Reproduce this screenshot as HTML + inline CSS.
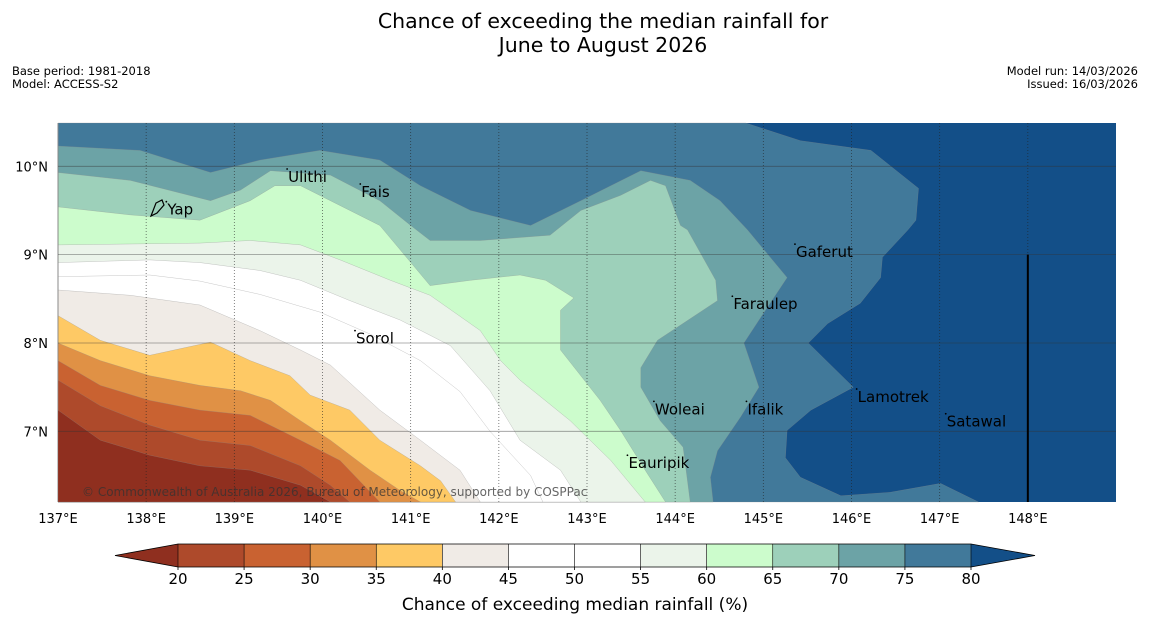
<!DOCTYPE html>
<html><head><meta charset="utf-8">
<style>
body{margin:0;background:#fff;font-family:"Liberation Sans","DejaVu Sans",sans-serif;}
svg{display:block}
</style></head>
<body>
<svg id="c" width="1150" height="644" viewBox="0 0 1150 644" xmlns="http://www.w3.org/2000/svg" font-family="DejaVu Sans, Liberation Sans, sans-serif">
<text x="603" y="28" text-anchor="middle" font-size="20.5">Chance of exceeding the median rainfall for</text>
<text x="603" y="52" text-anchor="middle" font-size="20.5">June to August 2026</text>
<text x="12" y="75" font-size="11.5">Base period: 1981-2018</text>
<text x="12" y="88" font-size="11.5">Model: ACCESS-S2</text>
<text x="1138" y="75" font-size="11.5" text-anchor="end">Model run: 14/03/2026</text>
<text x="1138" y="88" font-size="11.5" text-anchor="end">Issued: 16/03/2026</text>
<g id="map"></g>
<g id="cbar"></g>
<text x="575" y="610" text-anchor="middle" font-size="17">Chance of exceeding median rainfall (%)</text>
</svg>
<script>
const NS="http://www.w3.org/2000/svg";
const levels=[20,25,30,35,40,45,50,55,60,65,70,75,80];
const bandColors=["#ae4a2b","#c96231","#e09145","#fec965","#f0ebe6","#ffffff","#ffffff","#ebf4ea","#ccfccc","#9dd0ba","#6ca3a6","#41799a"];
const underColor="#8f2f1f";
const overColor="#134f88";
const lonTicks=[137,138,139,140,141,142,143,144,145,146,147,148];
const latTicks=[10,9,8,7];
const b80=[[144.80,10.49],[145.42,10.29],[146.22,10.18],[146.76,9.75],[146.73,9.39],[146.64,9.28],[146.35,8.97],[146.33,8.74],[146.10,8.45],[145.73,8.22],[145.51,8.00],[146.02,7.50],[145.54,7.24],[145.27,7.01],[145.25,6.70],[145.42,6.48],[145.88,6.27],[146.44,6.31],[147.01,6.41],[147.44,6.20]];
const b75=[[137,10.23],[137.93,10.18],[138.73,9.93],[139.29,10.07],[139.97,10.18],[140.65,10.07],[141.11,9.78],[141.68,9.50],[142.36,9.33],[142.93,9.61],[143.61,9.95],[144.17,9.84],[144.51,9.61],[144.82,9.28],[145.27,8.74],[144.97,8.29],[144.78,8.00],[144.95,7.50],[144.74,7.16],[144.48,6.78],[144.40,6.48],[144.43,6.20]];
const b70=[[137,9.93],[137.82,9.84],[138.73,9.61],[139.07,9.73],[139.41,9.95],[140.09,9.90],[140.65,9.61],[141.00,9.33],[141.22,9.16],[141.79,9.16],[142.58,9.22],[142.93,9.50],[143.38,9.67],[143.72,9.84],[143.89,9.78],[144.06,9.33],[144.14,9.28],[144.46,8.71],[144.48,8.48],[143.80,8.03],[143.61,7.72],[143.61,7.50],[143.83,7.12],[144.09,6.82],[144.17,6.20]];
const b65=[[137,9.54],[137.82,9.45],[138.61,9.39],[139.18,9.61],[139.46,9.78],[139.75,9.78],[140.09,9.61],[140.65,9.33],[141.22,8.65],[141.68,8.71],[142.24,8.77],[142.53,8.71],[142.85,8.51],[142.70,8.37],[142.70,7.92],[143.15,7.35],[143.38,7.01],[143.66,6.56],[143.89,6.20]];
const b60=[[137,9.11],[138.61,9.13],[139.18,9.16],[139.75,9.11],[140.20,8.94],[140.77,8.71],[141.22,8.54],[141.79,8.14],[142.02,7.80],[142.24,7.58],[142.81,7.12],[143.27,6.67],[143.66,6.20]];
const b55=[[137,8.91],[138.04,8.94],[138.61,8.91],[139.29,8.82],[139.75,8.71],[140.31,8.48],[140.88,8.26],[141.45,7.97],[141.90,7.46],[142.24,6.90],[142.70,6.56],[142.93,6.20]];
const b50=[[137,8.75],[138.04,8.77],[138.61,8.70],[139.29,8.55],[139.97,8.35],[140.54,8.10],[141.11,7.80],[141.56,7.45],[141.90,7.00],[142.36,6.50],[142.50,6.20]];
const b45=[[137,8.60],[137.82,8.54],[138.61,8.43],[139.29,8.14],[139.75,7.92],[140.09,7.75],[140.65,7.24],[141.11,6.90],[141.56,6.56],[141.79,6.20]];
const b40=[[137,8.31],[137.48,8.03],[138.04,7.86],[138.73,8.01],[139.18,7.80],[139.63,7.63],[139.86,7.41],[140.31,7.24],[140.65,6.90],[141.11,6.61],[141.34,6.44],[141.51,6.20]];
const b35=[[137,8.00],[137.48,7.80],[138.04,7.63],[138.61,7.52],[139.07,7.46],[139.41,7.35],[139.75,7.12],[140.09,6.90],[140.54,6.56],[140.88,6.33],[141.11,6.20]];
const b30=[[137,7.80],[137.48,7.52],[138.04,7.35],[138.61,7.24],[139.18,7.18],[139.75,6.90],[140.20,6.67],[140.65,6.20]];
const b25=[[137,7.58],[137.48,7.29],[138.04,7.07],[138.61,6.90],[139.18,6.84],[139.75,6.61],[140.09,6.39],[140.31,6.20]];
const b20=[[137,7.24],[137.48,6.90],[138.04,6.73],[138.61,6.61],[139.18,6.56],[139.75,6.39],[140.09,6.20]];
const boundaries=[b80,b75,b70,b65,b60,b55,b50,b45,b40,b35,b30,b25,b20];
const islandNames=["Ulithi","Fais","Yap","Gaferut","Faraulep","Sorol","Woleai","Ifalik","Lamotrek","Satawal","Eauripik"];
const islandLon=[139.61,140.44,138.24,145.37,144.66,140.38,143.77,144.82,146.07,147.08,143.47];
const islandLat=[9.89,9.72,9.52,9.04,8.45,8.06,7.26,7.26,7.40,7.12,6.65];

const LON0=137,LON1=149.0,LAT0=6.2,LAT1=10.49;
const X0=58,X1=1116,Y0=123,Y1=502;
const xs=lon=>X0+(lon-LON0)/(LON1-LON0)*(X1-X0);
const ys=lat=>Y1-(lat-LAT0)/(LAT1-LAT0)*(Y1-Y0);
const mapG=document.getElementById('map');
function mk(tag,attrs,parent){const e=document.createElementNS(NS,tag);for(const k in attrs)e.setAttribute(k,attrs[k]);(parent||mapG).appendChild(e);return e;}

const bgRect=mk('rect',{x:X0,y:Y0,width:X1-X0,height:Y1-Y0,fill:overColor});


const topStrip=mk('polygon',{points:[[138.67,10.49],[138.72,10.43],[139.5,10.42],[139.7,10.49]].map(p=>xs(p[0])+','+ys(p[1])).join(' '),fill:overColor});


boundaries.forEach((b,i)=>{
  const lvl=levels[levels.length-1-i];
  const col=i<bandColors.length?bandColors[bandColors.length-1-i]:underColor;
  const pts=b.concat([[LON0,LAT0],[LON0,LAT1]]);
  const p=mk('polygon',{points:pts.map(q=>xs(q[0]).toFixed(1)+','+ys(q[1]).toFixed(1)).join(' '),fill:col,stroke:'#8a8a8a','stroke-width':0.4,'stroke-opacity':0.6});
  
  
});
latTicks.forEach(l=>{
  const ln=mk('line',{x1:X0,x2:X1,y1:ys(l),y2:ys(l),stroke:'#333','stroke-width':0.8,'stroke-opacity':0.5});
  
  
  const t=mk('text',{x:X0-10,y:ys(l)+5,'text-anchor':'end','font-size':13});
  t.textContent=l+'°N';
  
  
});
lonTicks.forEach(l=>{
  if(l>137){const ln=mk('line',{x1:xs(l),x2:xs(l),y1:Y0,y2:Y1,stroke:'#222','stroke-width':0.8,'stroke-dasharray':'1,2','stroke-opacity':0.7});
  
  }
  const t=mk('text',{x:xs(l),y:523,'text-anchor':'middle','font-size':13});
  t.textContent=l+'°E';
  
  
});
const eez=mk('line',{x1:xs(148),x2:xs(148),y1:ys(9),y2:Y1,stroke:'#000','stroke-width':2});


islandNames.forEach((n,i)=>{
  const t=mk('text',{x:xs(islandLon[i]),y:ys(islandLat[i])+6,'font-size':15,fill:'#000'});
  t.textContent=n;
  
  
  const d=mk('circle',{cx:xs(islandLon[i])-1,cy:ys(islandLat[i])-7,r:0.9,fill:'#000'});
  
  
});
const yapShape=mk('path',{d:'M151,216 L156,203 L162,200 L164,205 L157,213 Z',fill:'none',stroke:'#000','stroke-width':1.2});


const copyNote=mk('text',{x:82,y:496,'font-size':12,fill:'#333','fill-opacity':0.75});
copyNote.textContent='© Commonwealth of Australia 2026, Bureau of Meteorology, supported by COSPPac';



const cb=document.getElementById('cbar');
const CX0=178,CX1=971,CY0=544,CY1=567;
const cx=v=>CX0+(v-levels[0])/(levels[levels.length-1]-levels[0])*(CX1-CX0);
for(let i=0;i<bandColors.length;i++){
  const rr=mk('rect',{x:cx(levels[i]),y:CY0,width:cx(levels[i+1])-cx(levels[i]),height:CY1-CY0,fill:bandColors[i]},cb);
  
  
}
const leftTri=mk('polygon',{points:`${CX0},${CY0} ${CX0},${CY1} 115,${(CY0+CY1)/2}`,fill:underColor},cb);


const rightTri=mk('polygon',{points:`${CX1},${CY0} ${CX1},${CY1} 1035,${(CY0+CY1)/2}`,fill:overColor},cb);


const cbOutline=mk('polygon',{points:`115,${(CY0+CY1)/2} ${CX0},${CY0} ${CX1},${CY0} 1035,${(CY0+CY1)/2} ${CX1},${CY1} ${CX0},${CY1}`,fill:'none',stroke:'#000','stroke-width':0.8},cb);


levels.forEach(v=>{
  const ln=mk('line',{x1:cx(v),x2:cx(v),y1:CY0,y2:CY1,stroke:'#000','stroke-width':0.6},cb);
  
  
  const tk=mk('line',{x1:cx(v),x2:cx(v),y1:CY1,y2:CY1+3,stroke:'#000','stroke-width':0.8},cb);
  
  
  const t=mk('text',{x:cx(v),y:584,'text-anchor':'middle','font-size':15},cb);
  t.textContent=v;
  
  
});
</script>
</body></html>
